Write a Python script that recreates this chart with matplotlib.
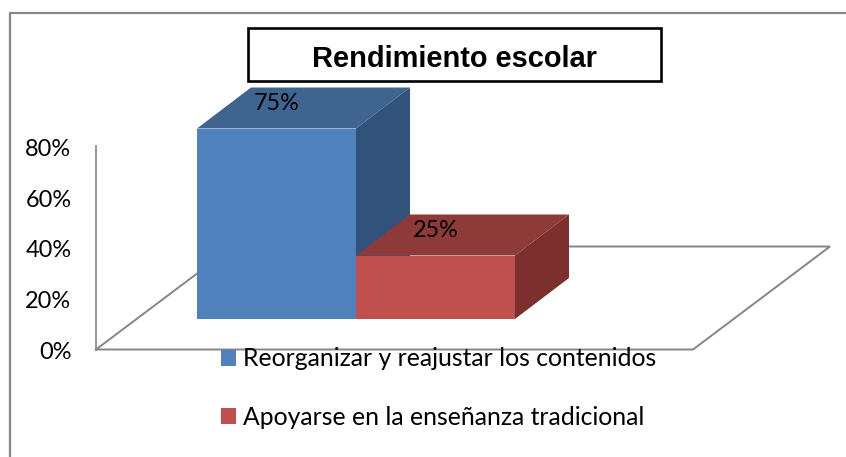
import matplotlib
matplotlib.use("Agg")
import matplotlib.pyplot as plt
from matplotlib.patches import Polygon, Rectangle, Patch
from matplotlib.transforms import ScaledTranslation

categories = ["Reorganizar y reajustar los contenidos", "Apoyarse en la enseñanza tradicional"]
values = [75, 25]
ticks = [0, 20, 40, 60, 80]
tick_labels = ["0%", "20%", "40%", "60%", "80%"]
title = "Rendimiento escolar"

front = ["#4F81BD", "#C0504D"]
top = ["#3F648F", "#8E3A38"]
side = ["#31527A", "#7C302E"]
grey = "#868686"

W, H = 846, 457
PX = 2.54            # pixels per percentage point
Y0 = 349.5           # pixel row of 0 %
fig = plt.figure(figsize=(W / 100, H / 100), dpi=100, facecolor="white")
ax = fig.add_axes([0, 0, 1, 1])
ax.set_xlim(0, W)
ax.set_ylim((Y0 - H) / PX, Y0 / PX)
ax.patch.set_alpha(0)


def yv(p):
    """pixel row -> value on the y scale"""
    return (Y0 - p) / PX


# frame
ax.plot([10, 10, W], [yv(H), yv(13), yv(13)], color=grey, lw=1.6, clip_on=False, zorder=1)

# floor
ax.plot([96, 693, 830, 233, 96], [yv(349.5), yv(349.5), yv(246.5), yv(246.5), yv(349.5)],
        color=grey, lw=1.4, zorder=2, solid_joinstyle="miter")

# value axis
for s in ("top", "right", "bottom"):
    ax.spines[s].set_visible(False)
ax.spines["left"].set_position(("data", 96))
ax.spines["left"].set_bounds(0, 80)
ax.spines["left"].set_color(grey)
ax.spines["left"].set_linewidth(1.2)
ax.set_xticks([])
ax.set_yticks(ticks)
ax.set_yticklabels(tick_labels, fontfamily="Lato", fontsize=16.9, color="black", va="center")
ax.tick_params(axis="y", length=0, pad=17.7)
shift = ScaledTranslation(0, -3 / 100, fig.dpi_scale_trans)
for lab in ax.get_yticklabels():
    lab.set_transform(lab.get_transform() + shift)

# 3-D looking bars
x0 = 197
bw = 159
dx, dy = 54, 41 / PX
base = yv(319)
for i, v in enumerate(values):
    xl = x0 + i * bw
    xr = xl + bw
    yt = base + v
    ax.add_patch(Polygon([(xl, yt), (xl + dx, yt + dy), (xr + dx, yt + dy), (xr, yt)],
                         fc=top[i], ec="none", zorder=3 + i))
    ax.add_patch(Polygon([(xr, base), (xr + dx, base + dy), (xr + dx, yt + dy), (xr, yt)],
                         fc=side[i], ec="none", zorder=3 + i))
    ax.add_patch(Rectangle((xl, base), bw, v, fc=front[i], ec="none", zorder=3 + i))
    ax.annotate(f"{v}%", xy=(xl + bw / 2, yt), xytext=(0, 18.3), textcoords="offset points",
                ha="center", va="center", fontfamily="Lato", fontsize=16.8,
                color="black", zorder=6)

# title
ax.add_patch(Rectangle((248, yv(81)), 413, 53 / PX, fc="white", ec="black", lw=1.9, zorder=7))
ax.text(454.5, yv(59), title, ha="center", va="center", fontfamily="Liberation Sans",
        fontweight="bold", fontsize=20.9, color="black", zorder=8)

# legend
handles = [Patch(fc=c, ec="none") for c in front]
leg = ax.legend(handles, categories, loc="upper left", bbox_to_anchor=(221 / W, 1 - 347.5 / H),
                bbox_transform=fig.transFigure, frameon=False, borderpad=0, borderaxespad=0,
                prop={"family": "Lato", "size": 17.8}, labelspacing=1.42,
                handlelength=0.6, handleheight=0.6, handletextpad=0.28)
leg.set_zorder(2)

fig.savefig("out.png", dpi=100)
